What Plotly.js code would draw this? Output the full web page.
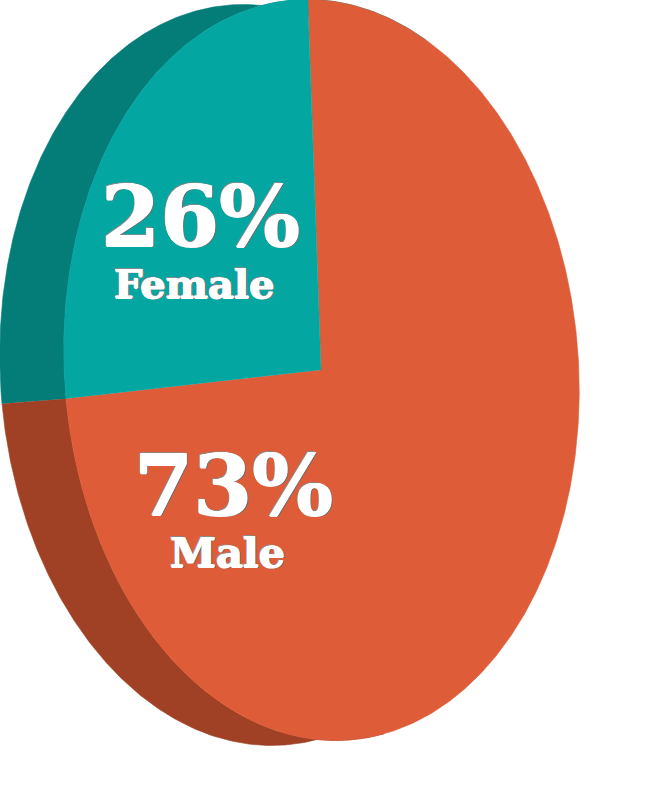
<!DOCTYPE html>
<html>
<head>
<meta charset="utf-8">
<script src="https://cdn.plot.ly/plotly-3.0.1.min.js"></script>
<style>html,body{margin:0;padding:0;background:#fff}#chart{width:666px;height:800px}</style>
</head>
<body>
<div id="chart"></div>
<script>
const categories = ["Female", "Male"];
const shares = [26, 73];
const faceColors = ["#04A6A1", "#DE5D38"];
const sideColors = ["#047C78", "#A04125"];

// Pie geometry on the pixel-scaled hidden axes
const cx = 321.5, cy = 370, rx = 257, ry = 371, tilt = 4.2 * Math.PI / 180;
const depthX = -64, depthY = 5;
const startDeg = 87;
const sideStart = 60, sideEnd = 278;

function pt(deg, dx, dy) {
  const t = deg * Math.PI / 180;
  const u = rx * Math.cos(t), v = -ry * Math.sin(t);
  return [cx + dx + u * Math.cos(tilt) + v * Math.sin(tilt),
          cy + dy - u * Math.sin(tilt) + v * Math.cos(tilt)];
}
function arc(a, b, dx, dy) {
  const n = Math.max(2, Math.ceil(Math.abs(b - a) * 2)), out = [];
  for (let i = 0; i <= n; i++) out.push(pt(a + (b - a) * i / n, dx, dy));
  return out;
}
const total = shares[0] + shares[1];
const splitDeg = startDeg + 360 * shares[0] / total;

function poly(points, color, name) {
  return { type: "scatter", mode: "lines", fill: "toself", fillcolor: color, name: name,
    x: points.map(p => p[0]), y: points.map(p => p[1]),
    line: { color: color, width: 0.6 }, hoverinfo: "name", showlegend: false };
}
const center = [cx - 0.5, cy];
const traces = [
  poly(arc(sideStart, splitDeg, depthX, depthY).concat(arc(splitDeg, sideStart, 0, 0)), sideColors[0], categories[0] + " side"),
  poly(arc(splitDeg, sideEnd, depthX, depthY).concat(arc(sideEnd, splitDeg, 0, 0)), sideColors[1], categories[1] + " side"),
  poly([center].concat(arc(splitDeg, startDeg + 360, 0, 0)), faceColors[1], categories[1]),
  poly([center].concat(arc(startDeg, splitDeg, 0, 0)), faceColors[0], categories[0])
];

const shadow = "0.7px 0 0 #fff, -0.7px 0 0 #fff, 0 0.5px 0 #fff, 1.5px 1.2px 0.4px #6e6e6e, -1.2px -0.8px 0.4px #8a8a8a";
const fam = '"DejaVu Serif", serif';
function label(text, x, y, size) {
  return { text: "<b>" + text + "</b>", x: x, y: y, xref: "x", yref: "y", showarrow: false,
    xanchor: "center", yanchor: "middle",
    font: { family: fam, size: size, color: "#fff", shadow: shadow } };
}
const layout = {
  width: 666, height: 800, margin: { l: 0, r: 0, t: 0, b: 0 },
  paper_bgcolor: "#fff", plot_bgcolor: "#fff", showlegend: false,
  xaxis: { visible: false, range: [0, 666], fixedrange: true },
  yaxis: { visible: false, range: [800, 0], fixedrange: true },
  annotations: [
    label(shares[0] + "%", 200.5, 216, 85),
    label(categories[0], 194.5, 283, 40),
    label(shares[1] + "%", 233, 485, 85),
    label(categories[1], 227, 552, 41.5)
  ]
};
Plotly.newPlot("chart", traces, layout, { displayModeBar: false, staticPlot: true });
</script>
</body>
</html>
